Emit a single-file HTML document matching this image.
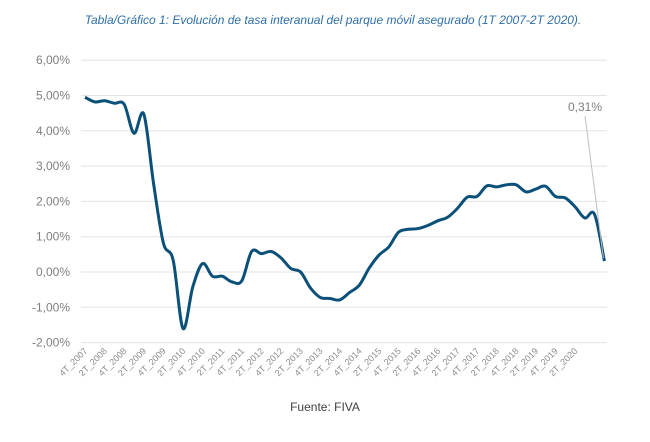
<!DOCTYPE html>
<html><head><meta charset="utf-8"><style>
body{margin:0;background:#fff;width:650px;height:437px;overflow:hidden;font-family:"Liberation Sans",sans-serif}
</style></head><body>
<svg id="chart" width="650" height="437" xmlns="http://www.w3.org/2000/svg">
<text x="333" y="24" text-anchor="middle" font-size="12" font-style="italic" fill="#2f6fa8">Tabla/Gráfico 1: Evolución de tasa interanual del parque móvil asegurado (1T 2007-2T 2020).</text>
<g id="grid"></g><g id="yaxis"></g><g id="xaxis"></g><g id="series"></g>
<text x="325" y="411" text-anchor="middle" font-size="12" fill="#404040">Fuente: FIVA</text>
</svg>
<script>
const quarters = ["4T_2007","1T_2008","2T_2008","3T_2008","4T_2008","1T_2009","2T_2009","3T_2009","4T_2009","1T_2010","2T_2010","3T_2010","4T_2010","1T_2011","2T_2011","3T_2011","4T_2011","1T_2012","2T_2012","3T_2012","4T_2012","1T_2013","2T_2013","3T_2013","4T_2013","1T_2014","2T_2014","3T_2014","4T_2014","1T_2015","2T_2015","3T_2015","4T_2015","1T_2016","2T_2016","3T_2016","4T_2016","1T_2017","2T_2017","3T_2017","4T_2017","1T_2018","2T_2018","3T_2018","4T_2018","1T_2019","2T_2019","3T_2019","4T_2019","1T_2020","2T_2020","3T_2020","4T_2020","1T_2021"];
const rates = [4.95,4.82,4.85,4.78,4.75,3.93,4.47,2.5,0.82,0.33,-1.6,-0.42,0.24,-0.12,-0.12,-0.28,-0.25,0.58,0.52,0.58,0.4,0.1,0.0,-0.45,-0.72,-0.75,-0.79,-0.58,-0.37,0.11,0.48,0.71,1.13,1.21,1.23,1.32,1.45,1.55,1.8,2.12,2.14,2.44,2.41,2.47,2.47,2.27,2.35,2.43,2.14,2.1,1.85,1.53,1.63,0.31];
const yTicks = [6,5,4,3,2,1,0,-1,-2];
const yTickLabels = ["6,00%","5,00%","4,00%","3,00%","2,00%","1,00%","0,00%","-1,00%","-2,00%"];
const lastLabel = "0,31%";
const NS="http://www.w3.org/2000/svg";
const X0=85, DX=9.8, Y0=272, PY=35.3;
const x=i=>X0+i*DX, y=v=>Y0-v*PY;
function mk(t,a,p){const e=document.createElementNS(NS,t);for(const k in a)e.setAttribute(k,a[k]);p.appendChild(e);return e;}
const grid=document.getElementById('grid'),ya=document.getElementById('yaxis'),xa=document.getElementById('xaxis'),se=document.getElementById('series');
yTicks.forEach((v,i)=>{
 const l=mk('line',{x1:81,x2:607,y1:y(v),y2:y(v),stroke:'#e3e3e3','stroke-width':1},grid);
 
 
 const t=mk('text',{x:70,y:y(v)+4,'text-anchor':'end','font-size':12,fill:'#7f7f7f'},ya);
 t.textContent=yTickLabels[i];
 
 
});
quarters.forEach((q,i)=>{
 if(i%2||i>50)return;
 const t=mk('text',{x:0,y:0,'text-anchor':'end','font-size':9,fill:'#8c8c8c',transform:`translate(${x(i)+3},${y(-2)+9}) rotate(-45)`},xa);
 t.textContent=q;
 
 
});
const pts=rates.map((v,i)=>[x(i),y(v)]);
let d=`M${pts[0][0]},${pts[0][1]}`;
for(let i=0;i<pts.length-1;i++){
 const p0=pts[i-1]||pts[i],p1=pts[i],p2=pts[i+1],p3=pts[i+2]||p2,k=6;
 d+=` C${p1[0]+(p2[0]-p0[0])/k},${p1[1]+(p2[1]-p0[1])/k} ${p2[0]-(p3[0]-p1[0])/k},${p2[1]-(p3[1]-p1[1])/k} ${p2[0]},${p2[1]}`;
}
const path=mk('path',{d:d,fill:'none',stroke:'#0b5079','stroke-width':3,'stroke-linejoin':'round'},se);


const last=pts[pts.length-1];
const ll=mk('line',{x1:585,y1:116,x2:last[0]-1,y2:last[1]-3,stroke:'#bfbfbf','stroke-width':1},se);


const at=mk('text',{x:602,y:111,'text-anchor':'end','font-size':12,fill:'#7f7f7f'},se);
at.textContent=lastLabel;


</script>
</body></html>
